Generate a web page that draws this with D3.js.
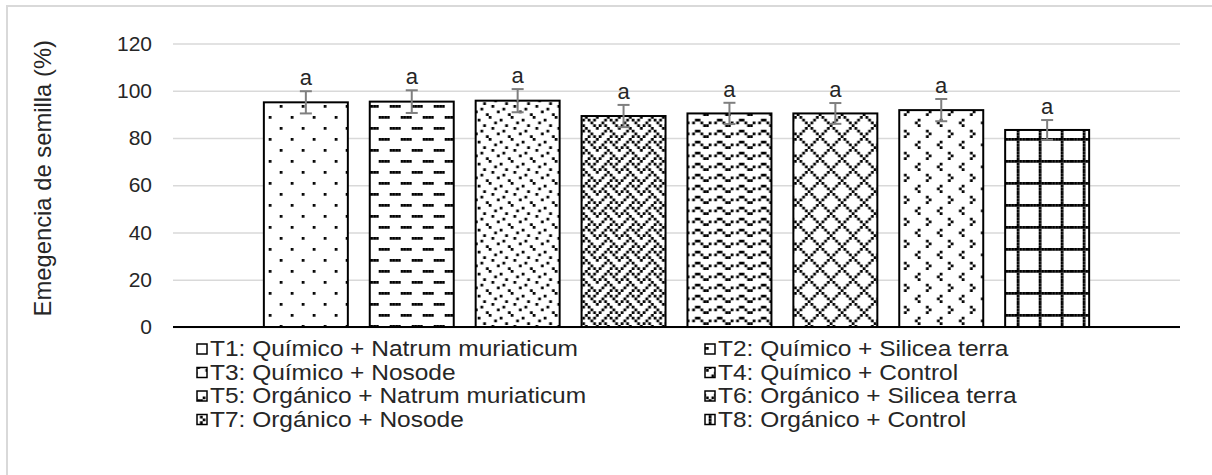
<!DOCTYPE html>
<html>
<head>
<meta charset="utf-8">
<script src="https://cdn.jsdelivr.net/npm/d3@7"></script>
<style>
  body { margin: 0; background: #fff; }
  svg { font-family: Arial, "Liberation Sans", sans-serif; }
</style>
</head>
<body>
<div id="chart"></div>
<script>
// data
const treatments = ["T1", "T2", "T3", "T4", "T5", "T6", "T7", "T8"];
const legendLabels = [
  "T1: Químico + Natrum muriaticum",
  "T2: Químico + Silicea terra",
  "T3: Químico + Nosode",
  "T4: Químico + Control",
  "T5: Orgánico + Natrum muriaticum",
  "T6: Orgánico + Silicea terra",
  "T7: Orgánico + Nosode",
  "T8: Orgánico + Control"
];
const emergence = [95.1, 95.4, 95.8, 89.3, 90.4, 90.4, 91.8, 83.4];
const errors = [4.7, 4.8, 4.9, 4.7, 4.5, 4.4, 4.7, 4.2];
const letters = ["a", "a", "a", "a", "a", "a", "a", "a"];
const yTicks = [0, 20, 40, 60, 80, 100, 120];

// 8x8 pattern fills, one byte per row (like the excel pattern fills)
const fills = [
  [0x80, 0x00, 0x00, 0x00, 0x08, 0x00, 0x00, 0x00], // dotted 5%
  [0xf0, 0x00, 0x00, 0x00, 0x0f, 0x00, 0x00, 0x00], // dashed horizontal
  [0x80, 0x08, 0x20, 0x02, 0x40, 0x04, 0x10, 0x01], // confetti
  [0x11, 0x2a, 0x44, 0xa2, 0x11, 0x28, 0x44, 0x8a], // weave
  [0x00, 0x18, 0xa4, 0x03, 0x00, 0x18, 0xa4, 0x03], // wave
  [0x41, 0x22, 0x14, 0x08, 0x14, 0x22, 0x41, 0x80], // outlined diamond
  [0x00, 0x08, 0x10, 0x08, 0x00, 0x01, 0x80, 0x01], // divot
  [0xff, 0x80, 0x80, 0x80, 0x80, 0x80, 0x80, 0x80]  // large grid
];

const width = 1212, height = 475;
const margin = { top: 43.5, right: 32, bottom: 148, left: 173 };

const svg = d3.select("#chart").append("svg")
    .attr("width", width)
    .attr("height", height)
    .attr("viewBox", [0, 0, width, height]);

// outer chart border (runs off the right/bottom of the picture)
svg.append("rect")
    .attr("x", 7).attr("y", 6)
    .attr("width", width + 20).attr("height", height + 20)
    .attr("fill", "none")
    .attr("stroke", "#d9d9d9")
    .attr("stroke-width", 2);

// patterns
const px = 2.75;
const defs = svg.append("defs");
fills.forEach((rows, i) => {
  const p = defs.append("pattern")
      .attr("id", "fill" + i)
      .attr("patternUnits", "userSpaceOnUse")
      .attr("x", 4.7).attr("y", 6)
      .attr("width", px * 8).attr("height", px * 8);
  p.append("rect").attr("width", px * 8).attr("height", px * 8).attr("fill", "#fff");
  rows.forEach((bits, r) => {
    for (let c = 0; c < 8; c++) {
      if (bits & (0x80 >> c)) {
        p.append("rect")
            .attr("x", c * px).attr("y", r * px)
            .attr("width", px).attr("height", px)
            .attr("fill", "#000");
      }
    }
  });
});

const x = d3.scaleBand()
    .domain(treatments)
    .range([margin.left, width - margin.right])
    .paddingInner(0.207)
    .paddingOuter(0.858);

const y = d3.scaleLinear()
    .domain([0, 120])
    .range([height - margin.bottom, margin.top]);

// y axis + gridlines
const yAxis = g => g
    .attr("transform", `translate(${margin.left},0)`)
    .call(d3.axisLeft(y)
        .tickValues(yTicks)
        .tickSizeInner(-(width - margin.left - margin.right))
        .tickSizeOuter(0)
        .tickPadding(21))
    .call(g => g.select(".domain").remove())
    .call(g => g.selectAll(".tick line").attr("stroke", "#d9d9d9").attr("stroke-width", 1.5))
    .call(g => g.selectAll(".tick text")
        .attr("fill", "#262626")
        .attr("font-size", 21)
        .attr("font-family", "Arial, 'Liberation Sans', sans-serif"));

svg.append("g").call(yAxis);

svg.append("text")
    .attr("transform", `translate(51,${(y(0) + y(120)) / 2 - 7}) rotate(-90)`)
    .attr("text-anchor", "middle")
    .attr("font-size", 23.8)
    .attr("fill", "#262626")
    .text("Emegencia de semilla (%)");

// bars
svg.selectAll("rect.bar")
    .data(treatments)
    .join("rect")
    .attr("class", "bar")
    .attr("x", d => x(d))
    .attr("y", (d, i) => y(emergence[i]))
    .attr("width", x.bandwidth())
    .attr("height", (d, i) => y(0) - y(emergence[i]))
    .attr("fill", (d, i) => `url(#fill${i})`)
    .attr("stroke", "#000")
    .attr("stroke-width", 2);

// x axis line
svg.append("line")
    .attr("x1", margin.left).attr("x2", width - margin.right)
    .attr("y1", y(0)).attr("y2", y(0))
    .attr("stroke", "#000")
    .attr("stroke-width", 2);

// error bars
const err = svg.append("g")
    .attr("stroke", "#7f7f7f")
    .attr("stroke-width", 2);
treatments.forEach((d, i) => {
  const cx = x(d) + x.bandwidth() / 2;
  const top = y(emergence[i] + errors[i]);
  const bot = y(emergence[i] - errors[i]);
  err.append("line").attr("x1", cx).attr("x2", cx).attr("y1", top).attr("y2", bot);
  err.append("line").attr("x1", cx - 6).attr("x2", cx + 6).attr("y1", top).attr("y2", top);
  err.append("line").attr("x1", cx - 6).attr("x2", cx + 6).attr("y1", bot).attr("y2", bot);
});

// significance letters
svg.selectAll("text.letter")
    .data(treatments)
    .join("text")
    .attr("class", "letter")
    .attr("x", d => x(d) + x.bandwidth() / 2)
    .attr("y", (d, i) => y(emergence[i] + errors[i]) - 6)
    .attr("text-anchor", "middle")
    .attr("font-size", 22)
    .attr("fill", "#262626")
    .text((d, i) => letters[i]);

// legend, two columns; the reference text is wide, so stretch it a little
const legend = svg.append("g");
const colX = [197, 705];
const rowY = [349, 372.5, 396, 419.5];
legendLabels.forEach((label, i) => {
  const lx = colX[i % 2], ly = rowY[Math.floor(i / 2)];
  legend.append("rect")
      .attr("x", lx).attr("y", ly - 5)
      .attr("width", 10).attr("height", 10)
      .attr("fill", `url(#fill${i})`)
      .attr("stroke", "#000")
      .attr("stroke-width", 1.5);
  legend.append("text")
      .attr("transform", `translate(${lx + 13},${ly}) scale(1.15,1)`)
      .attr("dy", "0.35em")
      .attr("font-size", 21.3)
      .attr("fill", "#262626")
      .text(label);
});
</script>
</body>
</html>
